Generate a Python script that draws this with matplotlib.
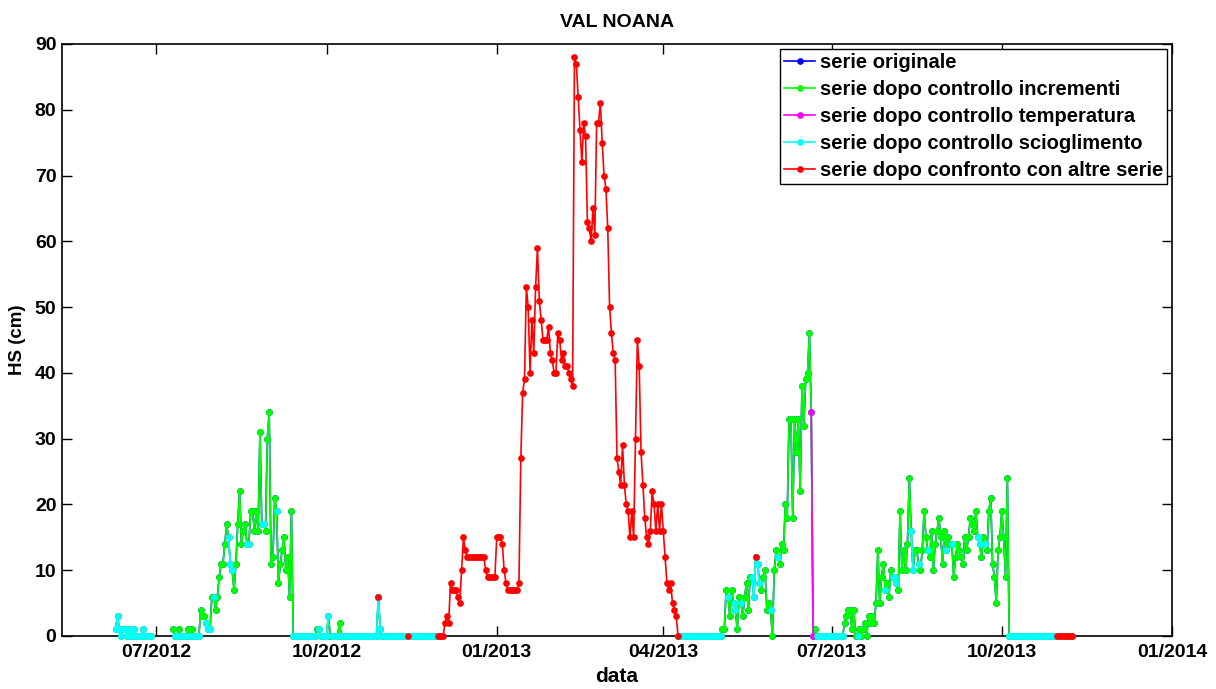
import pandas as pd
import matplotlib
matplotlib.use("Agg")
import matplotlib.pyplot as plt
import matplotlib.dates as mdates

plt.rcParams["font.family"] = ["Liberation Sans", "DejaVu Sans"]
plt.rcParams["font.weight"] = "bold"

# HS giornaliera (cm) + codice del controllo che ha "vinto" sul giorno
# c = scioglimento, g = incrementi, m = temperatura, r = confronto altre serie
june12_start = "2012-06-09"
june12_hs = [1, 3, 1, 0, 1, 1, 0, 1, 0, 0, 1, 0, 0, 0, 0, 1, 0, 0, 0, 0]
june12_flag = "cccccccccccccccccccc"

main_start = "2012-07-10"
summer12_hs = [1, 0, 0, 1, 0, 0, 0, 0, 1, 0,
               1, 0, 0, 0, 0, 4, 3, 3, 2, 1,
               1, 6, 6, 4, 6, 9, 11, 11, 14, 17,
               15, 11, 10, 7, 11, 17, 22, 14, 16, 17,
               14, 14, 19, 19, 16, 19, 16, 31, 17, 17,
               16, 30, 34, 11, 12, 21, 19, 8, 11, 13,
               15, 10, 12, 6, 19, 0]
summer12_flag = "gccgccccgc" "gccccgggcc" "cgcggggggg" "cccggggggg" "ccggggggcc" "ggggggcggg" "gggggc"

autumn12_hs = [0, 0, 0, 0, 0, 0, 0, 0, 0, 0,
               0, 0, 1, 1, 0, 0, 0, 0, 3, 0,
               0, 0, 0, 0, 2, 0, 0, 0, 0, 0,
               0, 0, 0, 0, 0, 0, 0, 0, 0, 0,
               0, 0, 0, 0, 0, 6, 1, 0, 0, 0,
               0, 0, 0, 0, 0, 0, 0, 0, 0, 0,
               0, 0, 0, 0, 0, 0, 0, 0, 0, 0,
               0, 0, 0, 0, 0, 0, 0]
autumn12_flag = "cccccccccc" "ccgccccccg" "ccccgccccc" "cccccccccc" "cccccrcccc" "cccccccccc" "crcccccccc" "ccccccc"

winter13_hs = [0, 0, 0, 0, 2, 3, 2, 8, 7, 7,
               7, 6, 5, 10, 15, 13, 12, 12, 12, 12,
               12, 12, 12, 12, 12, 12, 10, 9, 9, 9,
               9, 9, 15, 15, 15, 14, 10, 8, 7, 7,
               7, 7, 7, 7, 8, 27, 37, 39, 53, 50,
               40, 48, 43, 53, 59, 51, 48, 45, 45, 45,
               47, 43, 42, 40, 40, 46, 45, 42, 43, 41,
               41, 40, 39, 38, 88, 87, 82, 77, 72, 78,
               76, 63, 62, 60, 65, 61, 78, 78, 81, 75,
               70, 68, 62, 50, 46, 43, 42, 27, 25, 23,
               29, 23, 20, 19, 15, 19, 15, 30, 45, 41,
               28, 23, 18, 15, 14, 16, 22, 20, 16, 20,
               16, 20, 16, 12, 8, 7, 8, 5, 4, 3,
               0]
winter13_flag = "r" * 131

spring13_hs = [0, 0, 0, 0, 0, 0, 0, 0, 0, 0,
               0, 0, 0, 0, 0, 0, 0, 0, 0, 0,
               0, 0, 0]
spring13_flag = "ccccccccccccccccccccccc"

summer13_hs = [1, 1, 7, 6, 3, 7, 5, 4, 1, 6,
               5, 3, 6, 8, 4, 9, 9, 6, 12, 11,
               8, 7, 9, 10, 4, 5, 4, 0, 10, 13,
               12, 11, 14, 13, 20, 18, 33, 33, 18, 33,
               28, 33, 22, 38, 32, 39, 40, 46, 34, 0,
               1, 0, 0, 0, 0, 0, 0, 0, 0, 0,
               0, 0, 0, 0, 0, 0]
summer13_flag = "gggcggccgg" "cgggggccrc" "cgggggcggg" "cggggggggg" "ggggggggmm" "gccccccccc" "cccccc"

autumn13_hs = [2, 3, 4, 4, 1, 4, 0, 0, 1, 0,
               1, 2, 0, 3, 2, 3, 2, 5, 13, 5,
               9, 11, 7, 8, 6, 10, 9, 9, 8, 7,
               19, 10, 13, 10, 14, 24, 16, 10, 13, 13,
               11, 10, 13, 19, 15, 13, 12, 16, 10, 14,
               16, 18, 15, 11, 16, 13, 15, 14, 14, 9,
               12, 14, 13, 12, 11, 15, 13, 15, 18, 17,
               16, 19, 15, 14, 12, 15, 14, 13, 19, 21,
               11, 9, 5, 13, 15, 19, 15, 9, 24, 0,
               0, 0, 0, 0, 0, 0, 0, 0, 0, 0,
               0, 0, 0, 0, 0, 0, 0, 0, 0, 0,
               0, 0, 0, 0, 0, 0, 0, 0, 0, 0,
               0, 0, 0, 0]
autumn13_flag = ("gggggggcgg" "gggggggggg" "ggcgggcccg" "ggggggccgg" "cggggcgggg"
                 "gggggcggcg" "gggggggggg" "ggccggcggg" "gggggggggc"
                 + "c" * 25 + "r" * 9)

labels = ["serie originale", "serie dopo controllo incrementi",
          "serie dopo controllo temperatura", "serie dopo controllo scioglimento",
          "serie dopo confronto con altre serie"]
colors = ["#0000ff", "#00ff00", "#ff00ff", "#00ffff", "#ff0000"]


def daily(start, hs, flag):
    assert len(hs) == len(flag), (start, len(hs), len(flag))
    idx = pd.date_range(start, periods=len(hs), freq="D")
    return pd.DataFrame({"hs": hs, "flag": list(flag)}, index=idx)


chunks = [(summer12_hs, summer12_flag), (autumn12_hs, autumn12_flag),
          (winter13_hs, winter13_flag), (spring13_hs, spring13_flag),
          (summer13_hs, summer13_flag), (autumn13_hs, autumn13_flag)]
main_hs = sum([c[0] for c in chunks], [])
main_flag = "".join(c[1] for c in chunks)

df = pd.concat([daily(june12_start, june12_hs, june12_flag),
                daily(main_start, main_hs, main_flag)])
df = df.reindex(pd.date_range(df.index[0], df.index[-1], freq="D"))
hs = df["hs"].astype(float)
flag = df["flag"]

# giorni rossi interni ad un tratto rosso: le serie sotto non servono li'
is_r = flag == "r"
inner_r = is_r & is_r.shift(1, fill_value=False) & is_r.shift(-1, fill_value=False)

series = [hs.where(~inner_r),                               # originale (coperta)
          hs.where(~inner_r),                               # incrementi
          hs.where(flag == "m"),                            # temperatura
          hs.where(flag.isin(["c", "r"]) & ~inner_r),       # scioglimento
          hs.where(is_r)]                                   # confronto

fig = plt.figure(figsize=(12.16, 6.89), dpi=100)
ax = fig.add_axes([62 / 1216, 1 - 636 / 689, (1172 - 62) / 1216, (636 - 44) / 689])

for s, col, lab in zip(series, colors, labels):
    ax.plot(s.index, s.values, "-", color=col, marker="o", ms=3.8, lw=1.2,
            label=lab, clip_on=False, zorder=3)

ax.set_xlim(pd.Timestamp("2012-05-11"), pd.Timestamp("2014-01-01"))
ax.set_ylim(0, 90)
ax.set_yticks(range(0, 91, 10))
ax.set_xticks(pd.to_datetime(["2012-07-01", "2012-10-01", "2013-01-01", "2013-04-01",
                              "2013-07-01", "2013-10-01", "2014-01-01"]))
ax.xaxis.set_major_formatter(mdates.DateFormatter("%m/%Y"))
ax.tick_params(direction="in", top=True, right=True, length=7, width=1,
               labelsize=14)
ax.tick_params(axis="x", pad=6)
ax.tick_params(axis="y", pad=4)
for sp in ax.spines.values():
    sp.set_linewidth(1.2)

ax.set_title("VAL NOANA", fontsize=14, fontweight="bold", pad=12)
ax.set_xlabel("data", fontsize=15, fontweight="bold", labelpad=4)
ax.set_ylabel("HS (cm)", fontsize=13.5, fontweight="bold", labelpad=6)

leg = ax.legend(loc="upper right", fontsize=14.5, frameon=True, fancybox=False,
                edgecolor="black", framealpha=1, borderaxespad=0.25,
                borderpad=0.2, labelspacing=0.4, handlelength=1.5,
                handletextpad=0.25)
leg.get_frame().set_linewidth(1.0)

fig.savefig("out.png", dpi=100, facecolor="white")
